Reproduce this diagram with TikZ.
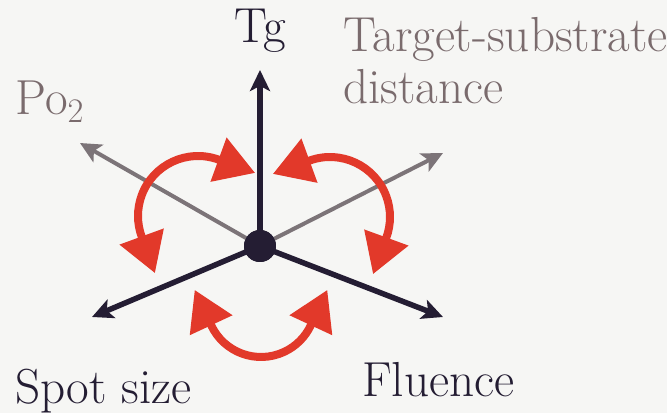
\documentclass[tikz,border=0pt]{standalone}
\usepackage{tikz}
\usetikzlibrary{arrows.meta,calc}
\definecolor{pnavy}{HTML}{241D33}
\definecolor{pgray}{HTML}{7C7478}
\definecolor{pgraytxt}{HTML}{7A6B6D}
\definecolor{pred}{HTML}{E2392A}
\definecolor{pback}{HTML}{F6F6F4}
\tikzset{
  >={Stealth[length=0.42cm, width=0.40cm, inset=0.1cm]},
  paxis/.style={->, pnavy, line width=0.11cm},
  paxisg/.style={->, pgray, line width=0.08cm},
  plbl/.style={pnavy, inner sep=0pt, font=\fontsize{28}{29.6}\selectfont},
  plblg/.style={plbl, pgraytxt},
  phub/.style={circle, fill=pnavy, minimum size=0.64cm, inner sep=0pt},
  pcycle/.style={pred, line width=0.16cm,
                 {Triangle[length=0.78cm, width=0.9cm]}-{Triangle[length=0.78cm, width=0.9cm]}},
}
\begin{document}
\begin{tikzpicture}[x=0.02cm,y=0.02cm]

  \path[use as bounding box, fill=pback] (0,0) rectangle (667,413);

  % centre and axis ends
  \node[phub] (hub) at (260,167) {};
  \coordinate (tgend) at (260,343);
  \coordinate (poend) at (80,270);
  \coordinate (tsdend) at (443,260);
  \coordinate (spotend) at (92,96);
  \coordinate (fluend) at (443,96);

  % axes
  \foreach \e in {poend, tsdend}
    \draw[paxisg] (hub.center) -- (\e);
  \foreach \e in {tgend, spotend, fluend}
    \draw[paxis] (hub.center) -- (\e);
  \node[phub] at (hub) {};

  % coupling arrows
  \coordinate (lc) at (198,197);
  \coordinate (rc) at (330,196);
  \coordinate (bc) at (261,111);
  \foreach \c/\a/\b/\r/\s/\t in {lc/70/200/1.2cm/-20/290, rc/110/-20/1.2cm/200/-110,
                                 bc/205/335/1.1cm/115/65}
    \draw[pcycle] ($(\c)+(\a:\r)+(\s:0.78cm)$) -- ($(\c)+(\a:\r)$)
          arc[start angle=\a, end angle=\b, radius=\r] -- ++(\t:0.78cm);

  % labels
  \node[plbl, anchor=base] (tglbl) at (260,370) {Tg};
  \node[plblg, anchor=base west] (polbl) at (15,298) {Po\textsubscript{2}};
  \node[plblg, anchor=north west, align=left] (tsdlbl) at (343,396) {Target-substrate\\distance};
  \node[plbl, anchor=base west] (spotlbl) at (15,10) {Spot size};
  \node[plbl, anchor=base west] (flulbl) at (362,16) {Fluence};

\end{tikzpicture}
\end{document}
